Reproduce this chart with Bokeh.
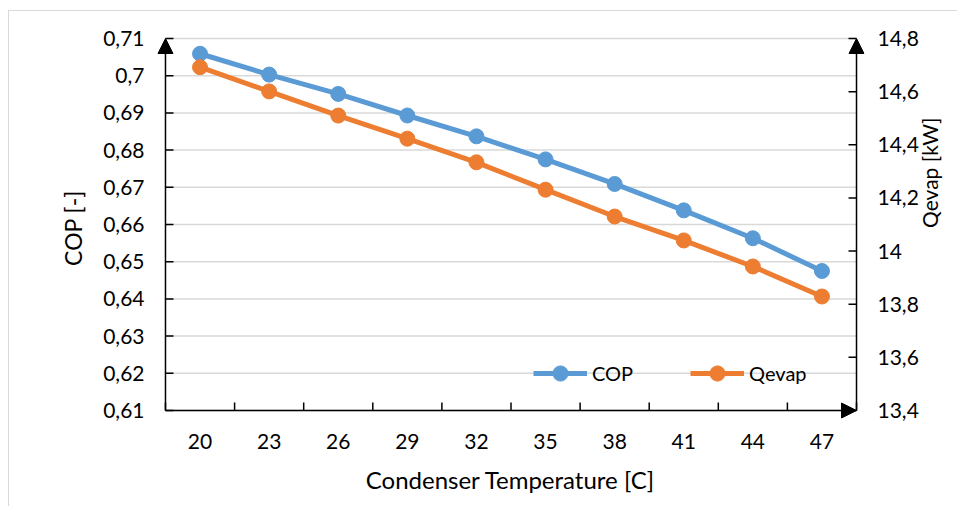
import math
from bokeh.plotting import figure
from bokeh.models import (Range1d, LinearAxis, FixedTicker, CustomJSTickFormatter,
                          Legend, LegendItem, Arrow, NormalHead, InlineStyleSheet)
from bokeh.embed import file_html
from bokeh.resources import INLINE

temps = ["20", "23", "26", "29", "32", "35", "38", "41", "44", "47"]
cop = [0.7059, 0.7003, 0.6951, 0.6893, 0.6837, 0.6775, 0.6709, 0.6638, 0.6563, 0.6475]
qevap = [14.692, 14.601, 14.510, 14.423, 14.334, 14.231, 14.130, 14.040, 13.942, 13.829]
cop_ticks = [0.61, 0.62, 0.63, 0.64, 0.65, 0.66, 0.67, 0.68, 0.69, 0.70, 0.71]
q_ticks = [13.4, 13.6, 13.8, 14.0, 14.2, 14.4, 14.6, 14.8]

BLUE = "#5B9BD5"
ORANGE = "#ED7D31"
GRID = "#D9D9D9"
FONT = "Lato"
TICK_FS = "21px"
TITLE_FS = "23px"
RTITLE_FS = "21px"
XTITLE_FS = "24px"
LEG_FS = "20px"

W, H = 957, 506
AX_L, AX_R, AX_T, AX_B = 165, 857, 38, 410   # axis box in canvas pixels
PAD_L, PAD_R, PAD_T, PAD_B = 9, 8, 2, 9      # room for arrow heads inside frame

n = len(temps)
xs = [i + 0.5 for i in range(n)]
bounds_x = list(range(n + 1))

ux = (AX_R - AX_L) / n
uy = (AX_B - AX_T) / (cop_ticks[-1] - cop_ticks[0])
uq = (AX_B - AX_T) / (q_ticks[-1] - q_ticks[0])

x_range = Range1d(-PAD_L / ux, n + PAD_R / ux)
y_range = Range1d(cop_ticks[0] - PAD_B / uy, cop_ticks[-1] + PAD_T / uy)
q_range = Range1d(q_ticks[0] - PAD_B / uq, q_ticks[-1] + PAD_T / uq)

p = figure(width=W, height=H, output_backend="svg", toolbar_location=None,
           x_range=x_range, y_range=y_range,
           min_border_left=AX_L - PAD_L, min_border_right=W - AX_R - PAD_R,
           min_border_top=AX_T - PAD_T, min_border_bottom=H - AX_B - PAD_B,
           x_axis_location=None, y_axis_location=None)
p.outline_line_color = None
p.background_fill_color = "white"
p.border_fill_color = "white"
p.extra_y_ranges = {"q": q_range}
p.xgrid.grid_line_color = None
p.ygrid.grid_line_color = None

fmt = CustomJSTickFormatter(code="return parseFloat(tick.toFixed(2)).toString().replace('.', ',');")

def style(ax):
    # axis lines / ticks are drawn at the data edge below; the axis supplies the texts
    ax.axis_line_color = None
    ax.major_tick_line_color = None
    ax.minor_tick_line_color = None
    ax.major_tick_in = 0
    ax.major_tick_out = 0
    ax.minor_tick_in = 0
    ax.minor_tick_out = 0
    ax.major_label_text_font = FONT
    ax.major_label_text_font_size = TICK_FS
    ax.major_label_text_color = "black"
    ax.axis_label_text_font = FONT
    ax.axis_label_text_font_size = TITLE_FS
    ax.axis_label_text_font_style = "normal"
    ax.axis_label_text_color = "black"

# left axis
yl = LinearAxis(ticker=FixedTicker(ticks=cop_ticks), formatter=fmt, axis_label="COP [-]")
style(yl)
yl.major_label_standoff = 12
yl.axis_label_standoff = 13
p.add_layout(yl, "left")

# right axis
yr = LinearAxis(y_range_name="q", ticker=FixedTicker(ticks=q_ticks), formatter=fmt,
                axis_label="Qevap [kW]")
style(yr)
yr.axis_label_text_font_size = RTITLE_FS
yr.major_label_standoff = 13
yr.axis_label_standoff = 8
if "axis_label_orientation" in LinearAxis.properties():
    yr.axis_label_orientation = math.pi / 2
    yr.axis_label_text_baseline = "top"
p.add_layout(yr, "right")

# bottom axis: labels at category centres
xa = LinearAxis(ticker=FixedTicker(ticks=xs),
                formatter=CustomJSTickFormatter(args=dict(labels=temps),
                                                code="return labels[Math.floor(tick)];"),
                axis_label="Condenser Temperature [C]")
style(xa)
xa.axis_label_text_font_size = XTITLE_FS
xa.major_label_standoff = 14
xa.axis_label_standoff = 13
p.add_layout(xa, "below")

# horizontal gridlines at the COP ticks, spanning the category area only
p.segment(x0=0, x1=n, y0=cop_ticks, y1=cop_ticks, line_color=GRID, line_width=1.5,
          level="underlay")

# inward tick marks
TICK = dict(length=8, length_units="screen", line_color="black", line_width=1.5)
p.ray(x=[0] * len(cop_ticks), y=cop_ticks, angle=0, **TICK)
p.ray(x=[n] * len(q_ticks), y=q_ticks, angle=math.pi, y_range_name="q", **TICK)
p.ray(x=bounds_x, y=[cop_ticks[0]] * len(bounds_x), angle=math.pi / 2, **TICK)

# series
l1 = p.line(xs, cop, line_color=BLUE, line_width=5)
c1 = p.scatter(xs, cop, size=15, fill_color=BLUE, line_color=BLUE)
l2 = p.line(xs, qevap, line_color=ORANGE, line_width=5, y_range_name="q")
c2 = p.scatter(xs, qevap, size=15, fill_color=ORANGE, line_color=ORANGE, y_range_name="q")

# axis lines with arrow heads
def head():
    return NormalHead(size=15, fill_color="black", line_color="black", line_width=1)

p.add_layout(Arrow(end=head(), x_start=0, y_start=cop_ticks[0], x_end=0, y_end=cop_ticks[-1],
                   line_color="black", line_width=1.5))
p.add_layout(Arrow(end=head(), x_start=n, y_start=cop_ticks[0], x_end=n, y_end=cop_ticks[-1],
                   line_color="black", line_width=1.5))
p.add_layout(Arrow(end=head(), x_start=0, y_start=cop_ticks[0], x_end=n, y_end=cop_ticks[0],
                   line_color="black", line_width=1.5))

# legend
legend = Legend(items=[LegendItem(label="COP", renderers=[l1, c1]),
                       LegendItem(label="Qevap", renderers=[l2, c2])],
                orientation="horizontal", location=(PAD_L + 368, AX_B + PAD_B - 373 - 19),
                glyph_width=54, glyph_height=38, label_standoff=5, spacing=57,
                padding=0, margin=0, background_fill_alpha=0, border_line_color=None,
                label_text_font=FONT, label_text_font_size=LEG_FS, label_text_color="black")
p.add_layout(legend)

# light chart-area border (left and top edges visible in the window)
p.stylesheets = [InlineStyleSheet(css="""
:host { position: relative; }
:host::after { content: ""; position: absolute; left: 8px; top: 10px; right: 0; bottom: 0;
  border-left: 1.5px solid #D9D9D9; border-top: 1.5px solid #D9D9D9;
  pointer-events: none; z-index: 10; }
""")]

open("out.html", "w").write(file_html(p, INLINE))
